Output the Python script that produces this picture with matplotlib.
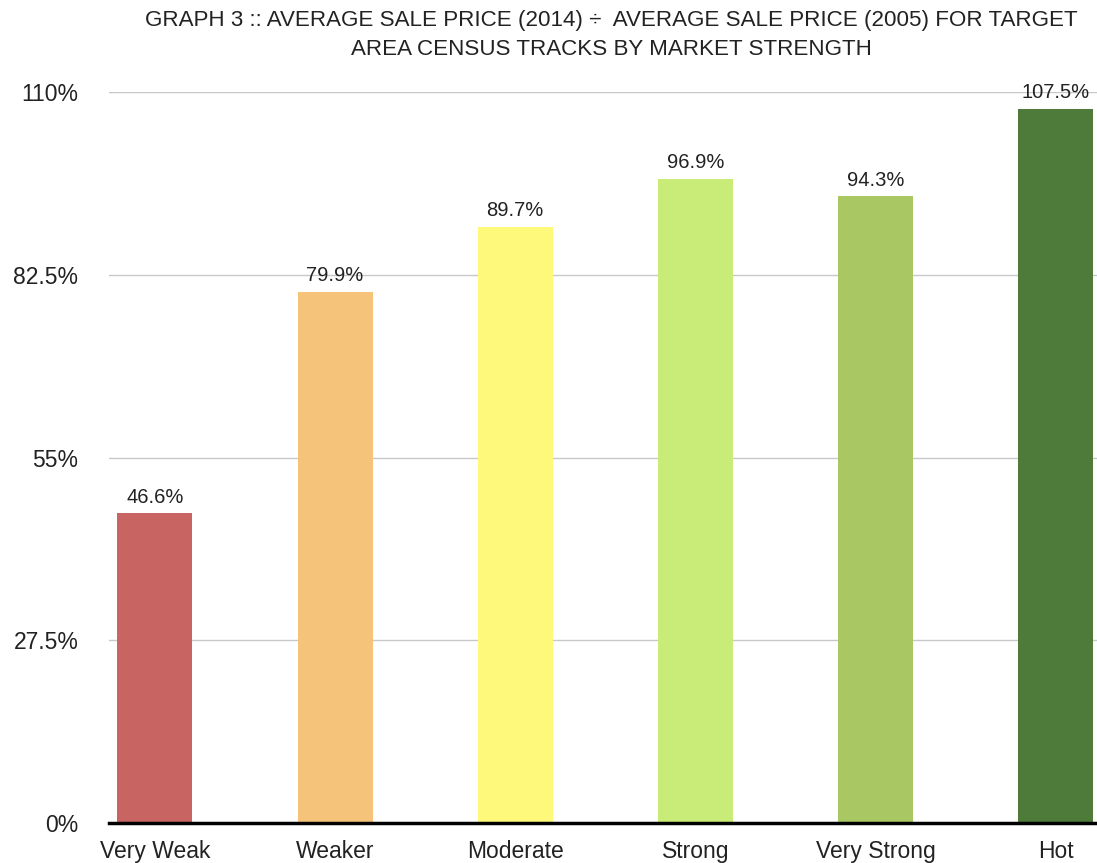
import matplotlib.pyplot as plt
import numpy as np

plt.rcParams['font.family'] = ['Liberation Sans', 'DejaVu Sans']

categories = ['Very Weak', 'Weaker', 'Moderate', 'Strong', 'Very Strong', 'Hot']
values = [46.6, 79.9, 89.7, 96.9, 94.3, 107.5]
colors = ['#C86461', '#F5C37A', '#FEF97A', '#C9EC78', '#A9C763', '#4E7A3A']
yticks = [0, 27.5, 55, 82.5, 110]
ytick_labels = ['0%', '27.5%', '55%', '82.5%', '110%']

fig = plt.figure(figsize=(10.97, 8.63), dpi=100)
ax = fig.add_axes([109 / 1097, 1 - 823 / 863, (1097 - 109) / 1097, (823 - 92) / 863])

x = np.arange(len(categories))
bars = ax.bar(x, values, width=0.417, color=colors, zorder=3)
for b, v in zip(bars, values):
    ax.text(b.get_x() + b.get_width() / 2, v + 1.0, f'{v}%', ha='center', va='bottom',
            fontsize=14.5, color='#222222')

ax.set_xlim(-0.255, 5.23)
ax.set_ylim(0, 110)
ax.set_yticks(yticks)
ax.set_yticklabels(ytick_labels)
ax.set_xticks(x)
ax.set_xticklabels(categories)
ax.tick_params(axis='both', length=0, labelsize=16.5, colors='#222222')
ax.tick_params(axis='x', pad=12)
ax.tick_params(axis='y', pad=22)
ax.grid(axis='y', color='#C8C8C8', linewidth=1, zorder=0)
for s in ['top', 'right', 'left']:
    ax.spines[s].set_visible(False)
ax.spines['bottom'].set_linewidth(2.5)
ax.spines['bottom'].set_color('black')
ax.spines['bottom'].set_zorder(4)

fig.text(0.557, 0.988, 'GRAPH 3 :: AVERAGE SALE PRICE (2014) \u00f7  AVERAGE SALE PRICE (2005) FOR TARGET\nAREA CENSUS TRACKS BY MARKET STRENGTH',
         ha='center', va='top', fontsize=16.1, color='#222222', linespacing=1.5)

fig.savefig('out.png', dpi=100)
